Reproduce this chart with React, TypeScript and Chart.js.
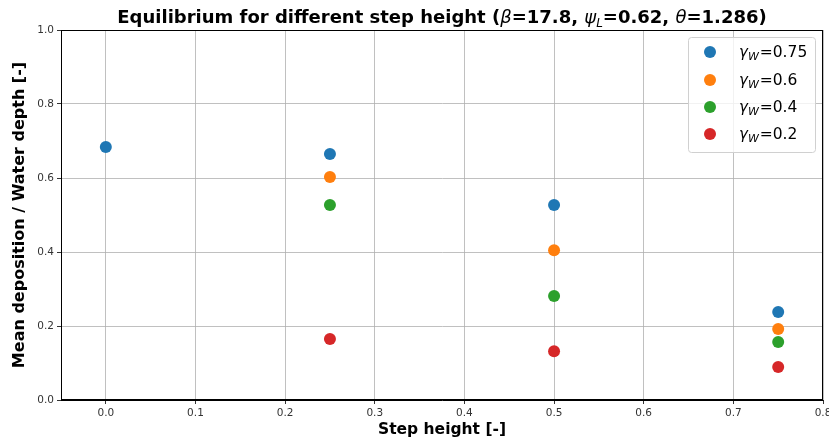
import React, { useEffect, useRef } from "react";
import { Chart, registerables } from "chart.js";

Chart.register(...registerables);

const stepHeights = [0, 0.25, 0.5, 0.75];
const gamma075 = [0.684, 0.665, 0.527, 0.238];
const gamma06 = [null, 0.603, 0.405, 0.192];
const gamma04 = [null, 0.527, 0.281, 0.157];
const gamma02 = [null, 0.165, 0.132, 0.089];
const seriesLabels = ["0.75", "0.6", "0.4", "0.2"];
const seriesColors = ["#1f77b4", "#ff7f0e", "#2ca02c", "#d62728"];
const xTicks = [0, 0.1, 0.2, 0.3, 0.4, 0.5, 0.6, 0.7, 0.8];
const yTicks = [0, 0.2, 0.4, 0.6, 0.8, 1.0];

const FONT = "'DejaVu Sans', sans-serif";

function toPoints(vals: (number | null)[]) {
  const pts: { x: number; y: number }[] = [];
  vals.forEach((v, i) => {
    if (v !== null) pts.push({ x: stepHeights[i], y: v });
  });
  return pts;
}

const decorPlugin = {
  id: "decor",
  afterDraw(chart: any) {
    const { ctx, chartArea } = chart;
    const { left, right, top, bottom } = chartArea;
    ctx.save();
    // frame
    ctx.strokeStyle = "#000";
    ctx.lineWidth = 1;
    ctx.strokeRect(left + 0.5, top + 0.5, right - left - 1, bottom - top - 1);

    // title with mixed fonts
    const parts: { t: string; f: string; dy?: number }[] = [
      { t: "Equilibrium for different step height (", f: `bold 18px ${FONT}` },
      { t: "β", f: `italic 18px ${FONT}` },
      { t: "=17.8, ", f: `bold 18px ${FONT}` },
      { t: "ψ", f: `italic 18px ${FONT}` },
      { t: "L", f: `italic 12px ${FONT}`, dy: 4 },
      { t: "=0.62, ", f: `bold 18px ${FONT}` },
      { t: "θ", f: `italic 18px ${FONT}` },
      { t: "=1.286)", f: `bold 18px ${FONT}` },
    ];
    let total = 0;
    parts.forEach((p) => {
      ctx.font = p.f;
      total += ctx.measureText(p.t).width;
    });
    let x = (left + right) / 2 - total / 2;
    const baseY = 23;
    ctx.fillStyle = "#000";
    ctx.textBaseline = "alphabetic";
    ctx.textAlign = "left";
    parts.forEach((p) => {
      ctx.font = p.f;
      ctx.fillText(p.t, x, baseY + (p.dy || 0));
      x += ctx.measureText(p.t).width;
    });

    // axis titles
    ctx.font = `bold 15.5px ${FONT}`;
    ctx.textAlign = "center";
    ctx.textBaseline = "middle";
    ctx.fillText("Step height [-]", (left + right) / 2, 430);
    ctx.save();
    ctx.translate(20, (top + bottom) / 2);
    ctx.rotate(-Math.PI / 2);
    ctx.font = `bold 16px ${FONT}`;
    ctx.fillText("Mean deposition / Water depth [-]", 0, 0);
    ctx.restore();

    // legend
    const lx = 688, ly = 37, lw = 127, lh = 115;
    ctx.fillStyle = "rgba(255,255,255,0.8)";
    ctx.strokeStyle = "#d0d0d0";
    ctx.lineWidth = 1;
    ctx.beginPath();
    (ctx as any).roundRect(lx + 0.5, ly + 0.5, lw, lh, 3);
    ctx.fill();
    ctx.stroke();
    const rows = [52, 80, 107, 134];
    seriesLabels.forEach((lab, i) => {
      const ry = rows[i];
      ctx.fillStyle = seriesColors[i];
      ctx.beginPath();
      ctx.arc(710, ry, 6, 0, Math.PI * 2);
      ctx.fill();
      ctx.fillStyle = "#000";
      ctx.textAlign = "left";
      ctx.textBaseline = "alphabetic";
      let tx = 739;
      const by = ry + 5;
      ctx.font = `italic 15px ${FONT}`;
      ctx.fillText("γ", tx, by);
      tx += ctx.measureText("γ").width;
      ctx.font = `italic 11px ${FONT}`;
      ctx.fillText("W", tx, by + 3);
      tx += ctx.measureText("W").width + 1;
      ctx.font = `15.5px ${FONT}`;
      ctx.fillText("=" + lab, tx, by);
    });
    ctx.restore();
  },
};

export default function App() {
  const ref = useRef<HTMLCanvasElement | null>(null);
  useEffect(() => {
    if (!ref.current) return;
    const series = [gamma075, gamma06, gamma04, gamma02];
    const chart = new Chart(ref.current, {
      type: "scatter",
      data: {
        datasets: series.map((vals, i) => ({
          label: "γW=" + seriesLabels[i],
          data: toPoints(vals),
          backgroundColor: seriesColors[i],
          borderColor: seriesColors[i],
          pointRadius: 6,
          pointBorderWidth: 0,
        })),
      },
      options: {
        animation: false,
        responsive: false,
        layout: { padding: { left: 0, right: 6, top: 30, bottom: 0 } },
        plugins: {
          legend: { display: false },
          title: { display: false },
          tooltip: { enabled: false },
        },
        scales: {
          x: {
            type: "linear",
            min: -0.05,
            max: 0.8,
            afterBuildTicks: (axis: any) => {
              axis.ticks = xTicks.map((v) => ({ value: v }));
            },
            afterFit: (scale: any) => {
              scale.height = 41;
              scale.paddingRight = 0;
              scale.paddingLeft = 0;
            },
            ticks: {
              font: { family: FONT, size: 10.5 },
              color: "#333",
              padding: 3,
              maxRotation: 0,
              callback: (v: any) => Number(v).toFixed(1),
            },
            grid: {
              color: "#b0b0b0",
              lineWidth: 0.8,
              tickLength: 4,
              tickColor: "#000",
            },
            border: { color: "#000", width: 1 },
          },
          y: {
            type: "linear",
            min: 0,
            max: 1,
            afterBuildTicks: (axis: any) => {
              axis.ticks = yTicks.map((v) => ({ value: v }));
            },
            afterFit: (scale: any) => {
              scale.width = 61;
              scale.paddingTop = 0;
              scale.paddingBottom = 0;
            },
            ticks: {
              font: { family: FONT, size: 10.5 },
              color: "#333",
              padding: 3,
              callback: (v: any) => Number(v).toFixed(1),
            },
            grid: {
              color: "#b0b0b0",
              lineWidth: 0.8,
              tickLength: 4,
              tickColor: "#000",
            },
            border: { color: "#000", width: 1 },
          },
        },
      },
      plugins: [decorPlugin],
    });
    return () => chart.destroy();
  }, []);
  return (
    <div style={{ position: "absolute", left: 0, top: 0, width: 829, height: 441 }}>
      <canvas ref={ref} width={829} height={441} style={{ width: 829, height: 441 }} />
    </div>
  );
}
